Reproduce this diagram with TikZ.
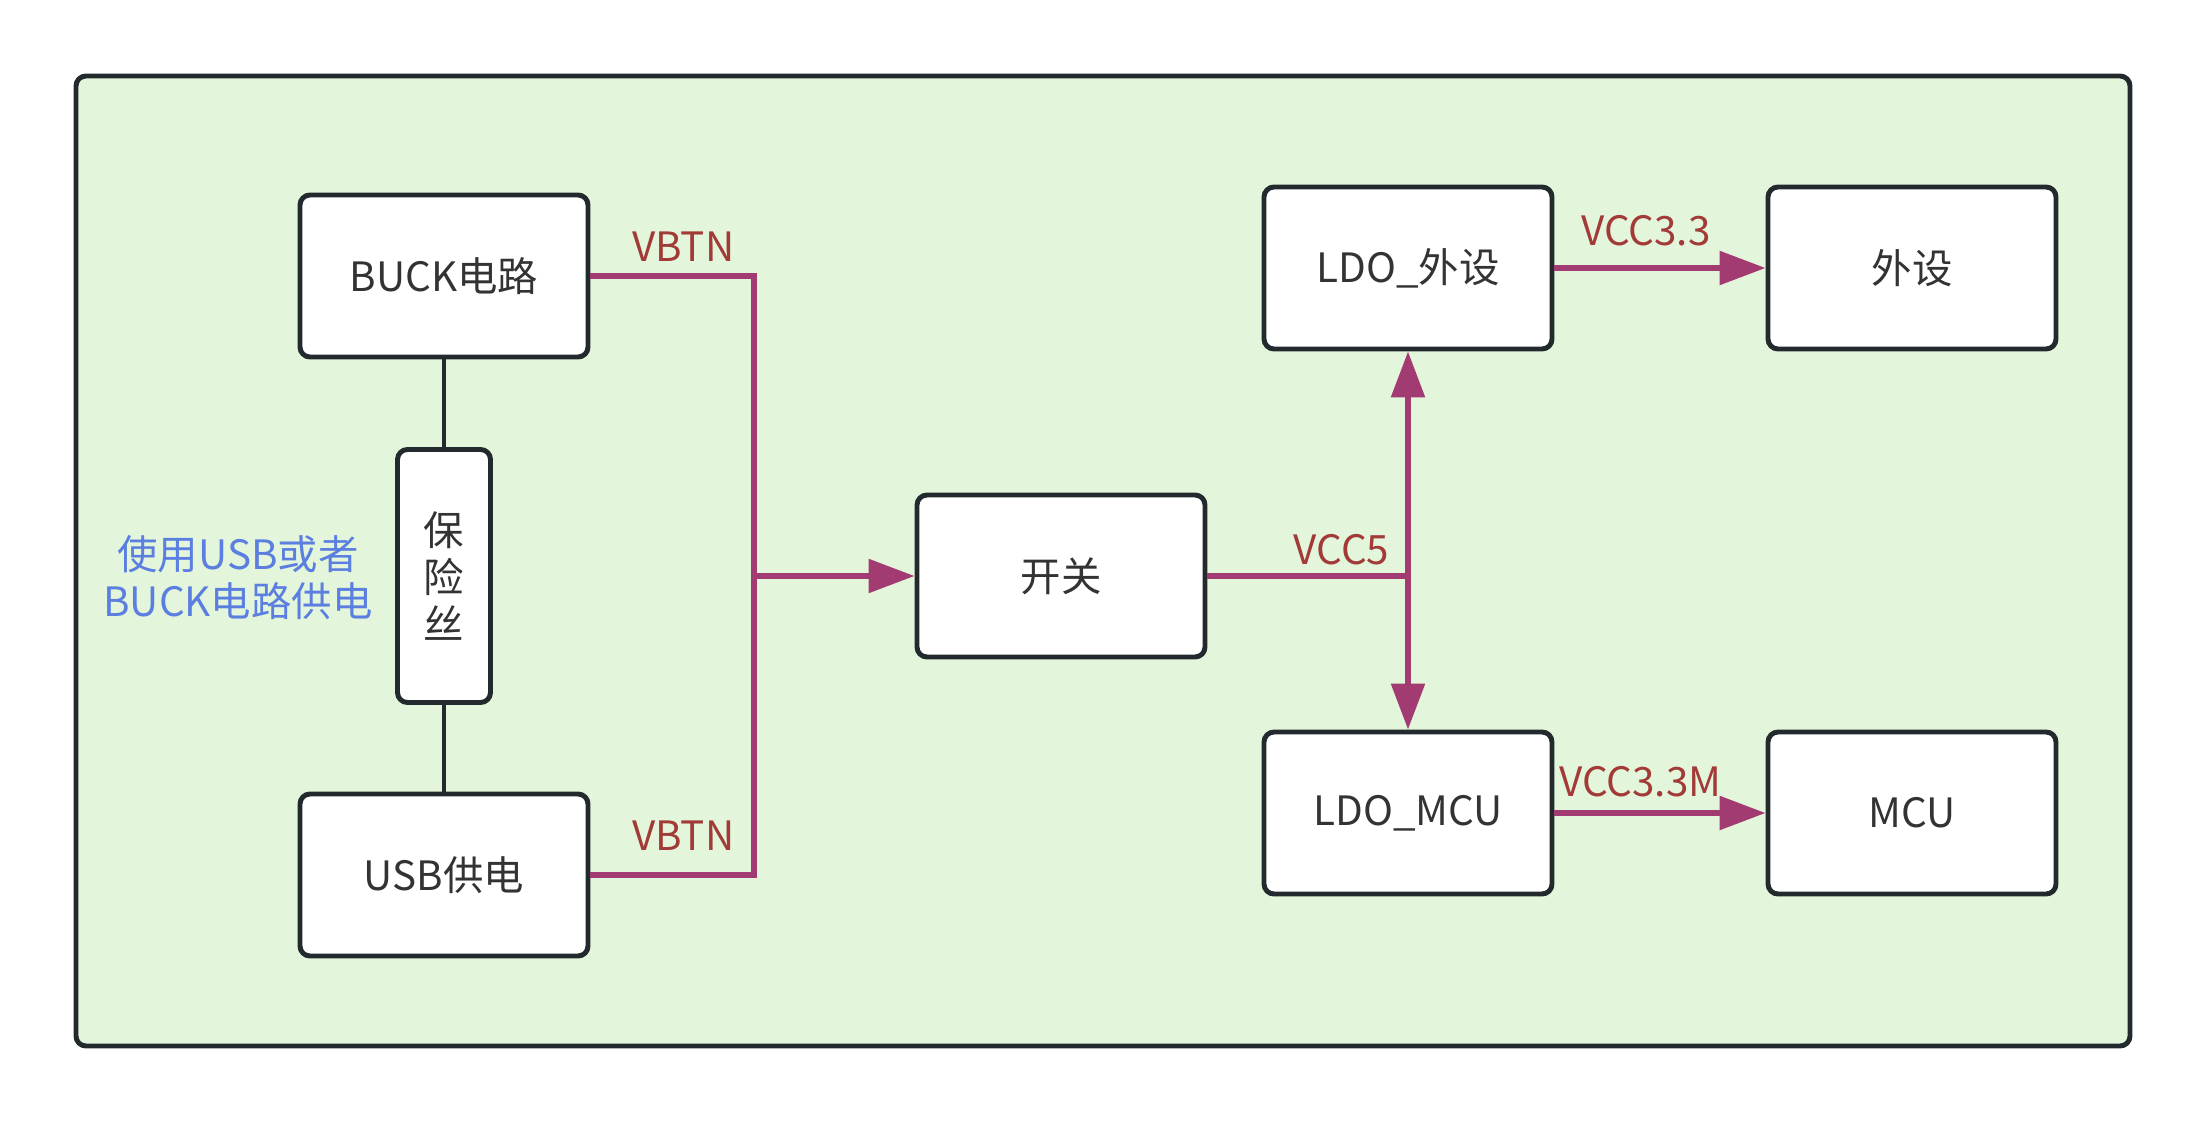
\documentclass[tikz,border=0pt]{standalone}
\usepackage{fontspec}
\setmainfont{Noto Sans CJK SC}
\usetikzlibrary{arrows.meta,positioning}
\definecolor{bggreen}{HTML}{E3F5DA}
\definecolor{edgedark}{HTML}{232A2E}
\definecolor{wirecol}{HTML}{A33B73}
\definecolor{netred}{HTML}{A23A38}
\definecolor{noteblue}{HTML}{5B7FE0}
\definecolor{txtdark}{HTML}{333333}
\tikzset{every picture/.style={line width=1pt}}

\begin{document}
\begin{tikzpicture}[>={Triangle[length=4.6mm,width=3.3mm]},font=\fontsize{11.5}{13.4}\selectfont,
  block/.style={draw=edgedark,fill=white,rounded corners=0.1cm,line width=1.4pt,
    minimum width=2.88cm,minimum height=1.62cm,text=txtdark},
  fusebox/.style={block,minimum width=0.93cm,minimum height=2.53cm,align=center,inner sep=0pt},
  wire/.style={draw=wirecol,line width=1.6pt},
  net/.style={text=netred,inner sep=0pt}]
                      \fill[white] (0,0) rectangle (22.05,11.22);
                      \useasboundingbox (0,0) rectangle (22.05,11.22);
                      \draw[draw=edgedark,fill=bggreen,rounded corners=0.1cm,line width=1.4pt] (0.76,0.76) rectangle (21.30,10.46);
                      % supply side
                      \node[block] (buck) at (4.44,8.46) {BUCK电路};
                      \node[fusebox] (fuse) at (4.44,5.46) {保\\险\\丝};
                      \node[block] (usb) at (4.44,2.47) {USB供电};
                      \node[text=noteblue,align=center] (note) at (2.38,5.44) {使用USB或者\\BUCK电路供电};
                      \draw[edgedark,line width=1.4pt] (buck.south)--(fuse.north);
                      \draw[edgedark,line width=1.4pt] (fuse.south)--(usb.north);
                      % switch and regulators
                      \node[block] (sw) at (10.61,5.46) {开关};
                      \node[block] (ldoa) at (14.08,8.54) {LDO\_外设};
                      \node[block] (peri) at (19.12,8.54) {外设};
                      \node[block] (ldom) at (14.08,3.09) {LDO\_MCU};
                      \node[block] (mcu) at (19.12,3.09) {MCU};
                      \coordinate (jt) at (7.54,8.46);
                      \coordinate (jm) at (7.54,5.46);
                      \coordinate (jb) at (7.54,2.47);
                      \coordinate (jv) at (14.08,5.46);
                      \draw[wire] (buck.east)--(jt)--(jb)--(usb.east);
                      \draw[wire,->] (jm)--(sw.west);
                      \draw[wire] (sw.east)--(jv);
                      \draw[wire,<->] (ldoa.south)--(ldom.north);
                      \draw[wire,->] (ldoa.east)--(peri.west);
                      \draw[wire,->] (ldom.east)--(mcu.west);
                      % net names
                      \node[net,above left=0.13cm and 0.18cm of jt] (vbtna) {VBTN};
                      \node[net,above left=0.23cm and 0.18cm of jb] (vbtnb) {VBTN};
                      \node[net,above left=0.09cm and 0.17cm of jv] (vccfive) {VCC5};
                      \node[net,above right=0.2cm and 0.25cm of ldoa.east] (vccp) {VCC3.3};
                      \node[net,above right=0.14cm and 0.03cm of ldom.east] (vccm) {VCC3.3M};
                  \end{tikzpicture}
\end{document}
